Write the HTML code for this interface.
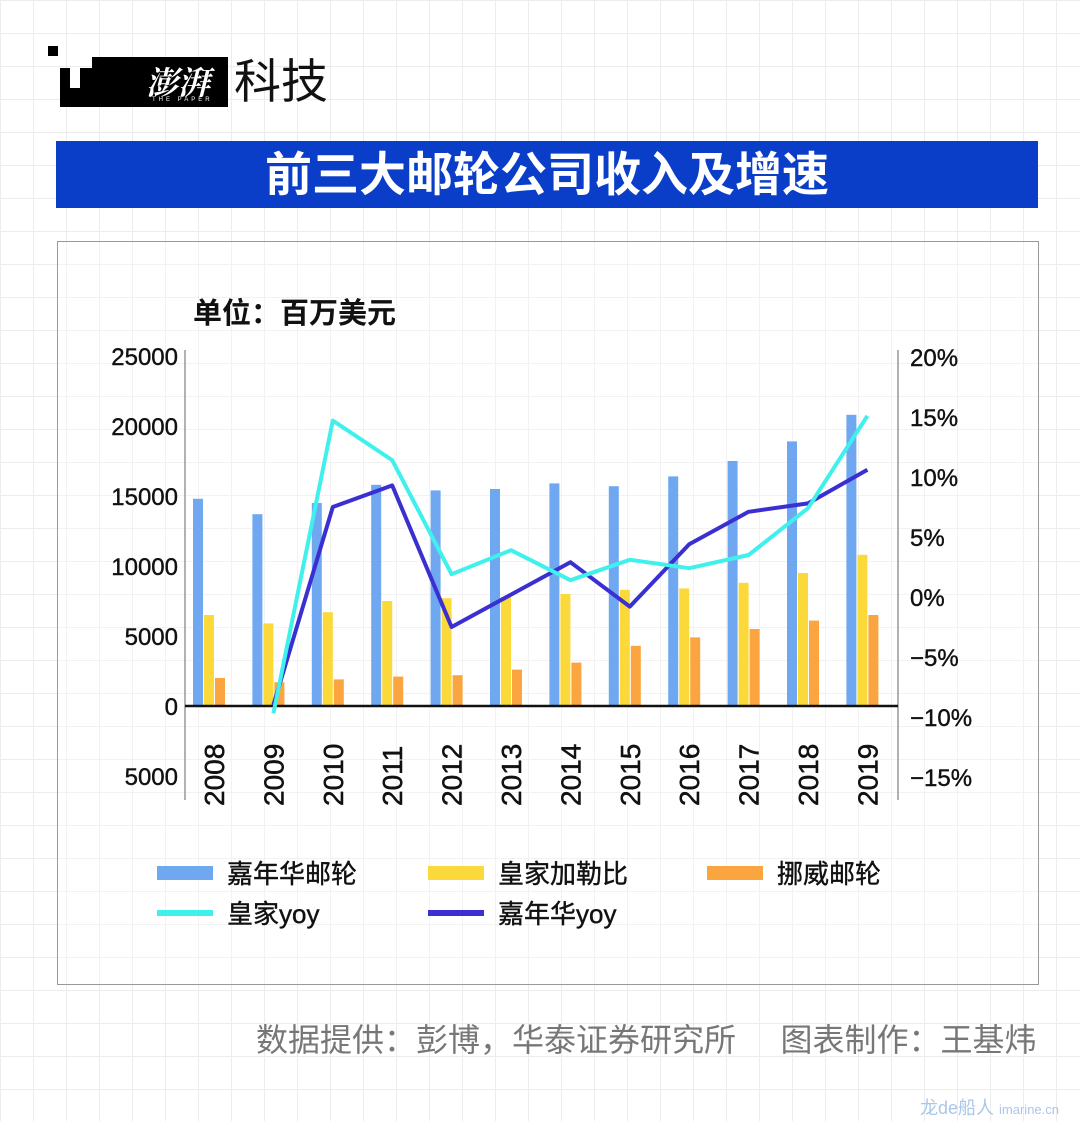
<!DOCTYPE html>
<html><head><meta charset="utf-8">
<style>
html,body{margin:0;padding:0}
body{width:1080px;height:1121px;position:relative;overflow:hidden;background-color:#fff;
background-image:linear-gradient(#ececec 1px,transparent 1px),linear-gradient(90deg,#ececec 1px,transparent 1px);
background-size:33px 33px;font-family:"Liberation Sans","Noto Sans CJK SC",sans-serif}
.abs{position:absolute}
</style></head><body>
<div class="abs" style="left:0;top:0;width:340px;height:120px">
  <div class="abs" style="left:48px;top:46px;width:10px;height:10px;background:#000"></div>
  <div class="abs" style="left:60px;top:68px;width:34px;height:39px;background:#000"></div>
  <div class="abs" style="left:70px;top:68px;width:10px;height:20px;background:#fff"></div>
  <div class="abs" style="left:92px;top:57px;width:136px;height:50px;background:#000"></div>
  <div class="abs" style="left:146px;top:58px;color:#fff;font-family:'Noto Serif CJK SC',serif;font-size:32px;font-weight:bold;font-style:italic">澎湃</div>
  <div class="abs" style="left:152px;top:97px;color:#fff;font-size:6px;letter-spacing:3px">THE PAPER</div>
  <div class="abs" style="left:234px;top:54px;font-size:47px;line-height:56px;color:#111">科技</div>
</div>
<div class="abs" style="left:56px;top:141px;width:982px;height:67px;background:#0a3ec8;color:#fff;font-size:47px;font-weight:bold;text-align:center;line-height:67px">前三大邮轮公司收入及增速</div>
<div class="abs" style="left:57px;top:241px;width:980px;height:742px;border:1px solid #999;background:rgba(255,255,255,0.35)"></div>
<svg class="abs" style="left:0;top:0" width="1080" height="1121" id="chart"></svg>
<div class="abs" style="left:256px;top:1015px;font-size:32px;color:#777;white-space:nowrap">数据提供：彭博，华泰证券研究所&nbsp;&nbsp;&nbsp;&nbsp;&nbsp;图表制作：王基炜</div>
<div class="abs" style="left:920px;top:1094px;font-size:18px;color:#aac6e8">龙de船人 <span style="font-size:13px">imarine.cn</span></div>
<script>
const years=['2008','2009','2010','2011','2012','2013','2014','2015','2016','2017','2018','2019'];
const carnival=[14800,13700,14500,15800,15400,15500,15900,15700,16400,17500,18900,20800];
const royal=[6500,5900,6700,7500,7700,7800,8000,8300,8400,8800,9500,10800];
const ncl=[2000,1700,1900,2100,2200,2600,3100,4300,4900,5500,6100,6500];
const royalYoy=[null,-9.7,14.7,11.4,1.9,3.9,1.4,3.1,2.4,3.5,7.4,15.1];
const carnivalYoy=[null,-9.0,7.5,9.3,-2.5,0.2,2.9,-0.8,4.4,7.1,7.8,10.6];
const leftTicks=[25000,20000,15000,10000,5000,0,-5000];
const rightTicks=[20,15,10,5,0,-5,-10,-15];
const NS='http://www.w3.org/2000/svg';
const svg=document.getElementById('chart');
function yL(v){return 706-v*70/5000;}
function yR(v){return 597-v*12;}
function xC(i){return 214+i*59.4;}
function mk(t,a,txt){const e=document.createElementNS(NS,t);for(const k in a)e.setAttribute(k,a[k]);if(txt!=null)e.textContent=txt;svg.appendChild(e);return e;}
let e;
e=mk('text',{x:193,y:323,'font-size':29,'font-weight':'bold',fill:'#111'},'单位：百万美元');


e=mk('line',{x1:185,y1:350,x2:185,y2:800,stroke:'#999','stroke-width':1.5});


e=mk('line',{x1:898,y1:350,x2:898,y2:800,stroke:'#999','stroke-width':1.5});


leftTicks.forEach(v=>{
  e=mk('text',{x:178,y:yL(v)+9,'font-size':24,'text-anchor':'end',fill:'#111','stroke':'#111','stroke-width':0.4},String(Math.abs(v)));
  
  
});
rightTicks.forEach(v=>{
  e=mk('text',{x:910,y:yR(v)+9,'font-size':24,fill:'#111','stroke':'#111','stroke-width':0.4},(v<0?'−':'')+Math.abs(v)+'%');
  
  
});
const series=[[carnival,'#6fa8f0',-16],[royal,'#fcd93a',-5],[ncl,'#fba540',6]];
series.forEach(([arr,col,off])=>{
  arr.forEach((v,i)=>{
    e=mk('rect',{x:xC(i)+off-5,y:yL(v),width:10,height:706-yL(v),fill:col});
    
    
  });
});
e=mk('line',{x1:185,y1:706,x2:898,y2:706,stroke:'#111','stroke-width':2.5});


years.forEach((y,i)=>{
  e=mk('text',{x:0,y:0,'font-size':28,fill:'#111','stroke':'#111','stroke-width':0.5,transform:`translate(${xC(i)+10},${806}) rotate(-90)`},y);
  
  
});
function line(arr,col,name){
  const pts=[];arr.forEach((v,i)=>{if(v!=null)pts.push(xC(i)+','+yR(v));});
  e=mk('polyline',{points:pts.join(' '),fill:'none',stroke:col,'stroke-width':4,'stroke-linejoin':'round'});
  
  
}
line(carnivalYoy,'#3a2fd0','carnival-yoy-line');
line(royalYoy,'#3ff0ec','royal-yoy-line');
const legend=[['rect','#6fa8f0','嘉年华邮轮',157,873],['rect','#fcd93a','皇家加勒比',428,873],['rect','#fba540','挪威邮轮',707,873],['line','#3ff0ec','皇家yoy',157,913],['line','#3a2fd0','嘉年华yoy',428,913]];
legend.forEach(([t,c,l,x,y])=>{
  if(t=='rect') e=mk('rect',{x:x,y:y-7,width:56,height:14,fill:c});
  else e=mk('rect',{x:x,y:y-3,width:56,height:6,fill:c});
  
  
  e=mk('text',{x:x+70,y:y+10,'font-size':26,fill:'#111','stroke':'#111','stroke-width':0.4},l);
  
  
});
</script>
</body></html>
